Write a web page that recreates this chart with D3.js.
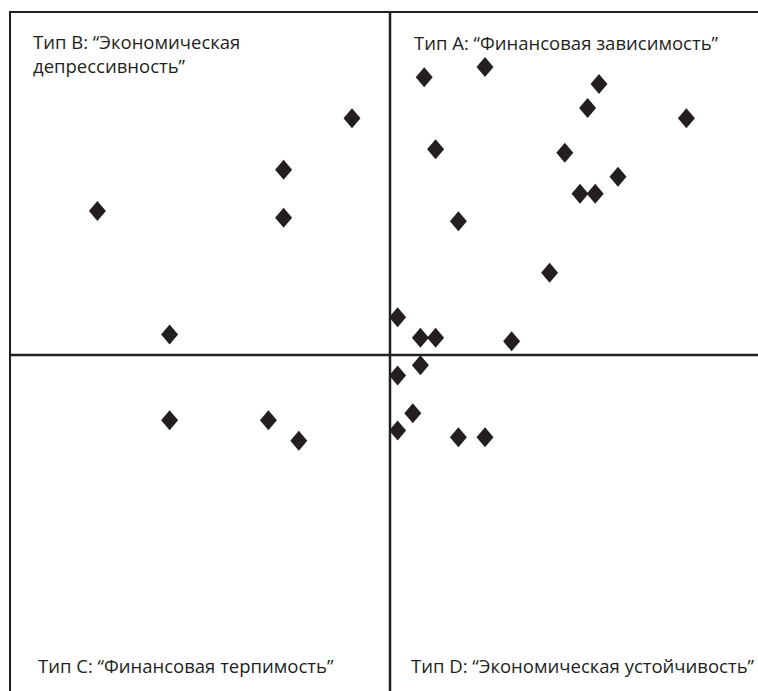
<!DOCTYPE html>
<html>
<head>
<meta charset="utf-8">
<script src="https://cdn.jsdelivr.net/npm/d3@7"></script>
<style>
  body { margin: 0; background: #fff; }
  text { font-family: "Open Sans", "Noto Sans", sans-serif; fill: #231f20; }
</style>
</head>
<body>
<div id="chart"></div>
<script>
// point values (x, y), axes cross at 0
var xValues = [
  -0.77, -0.28, -0.28, -0.10, -0.58,
  0.09, 0.25, 0.55, 0.52, 0.78, 0.12, 0.46, 0.60, 0.50, 0.54, 0.18,
  0.42, 0.02, 0.08, 0.12, 0.32,
  0.08, 0.02, 0.06, 0.02, 0.18, 0.25,
  -0.58, -0.32, -0.24
];
var yValues = [
  0.42, 0.54, 0.40, 0.69, 0.06,
  0.81, 0.84, 0.79, 0.72, 0.69, 0.60, 0.59, 0.52, 0.47, 0.47, 0.39,
  0.24, 0.11, 0.05, 0.05, 0.04,
  -0.03, -0.06, -0.17, -0.22, -0.24, -0.24,
  -0.19, -0.19, -0.25
];
var quadrantNames = ["A", "B", "C", "D"];
var quadrantLabels = [
  ["Тип A: “Финансовая зависимость”"],
  ["Тип B: “Экономическая", "депрессивность”"],
  ["Тип C: “Финансовая терпимость”"],
  ["Тип D: “Экономическая устойчивость”"]
];

var width = 758, height = 691;
var ink = "#231f20";

var svg = d3.select("#chart")
  .append("svg")
  .attr("width", width)
  .attr("height", height);

// the plot box runs past the right and bottom edge of the picture
var x = d3.scaleLinear().domain([-1, 1]).range([10, 770]);
var y = d3.scaleLinear().domain([-1, 1]).range([698, 12]);

svg.append("rect")
  .attr("x", x(-1))
  .attr("y", y(1))
  .attr("width", x(1) - x(-1))
  .attr("height", y(-1) - y(1))
  .attr("fill", "none")
  .attr("stroke", ink)
  .attr("stroke-width", 2);

svg.append("line")
  .attr("x1", x(0)).attr("x2", x(0))
  .attr("y1", y(1)).attr("y2", y(-1))
  .attr("stroke", ink).attr("stroke-width", 2.5);

svg.append("line")
  .attr("x1", x(-1)).attr("x2", x(1))
  .attr("y1", y(0)).attr("y2", y(0))
  .attr("stroke", ink).attr("stroke-width", 2.5);

// quadrant captions
var labelPos = {
  A: [414, 50],
  B: [33, 49],
  C: [38, 673],
  D: [411, 673]
};
quadrantNames.forEach(function(q, i) {
  var t = svg.append("text")
    .attr("x", labelPos[q][0])
    .attr("y", labelPos[q][1])
    .attr("font-size", 18.5);
  quadrantLabels[i].forEach(function(line, j) {
    t.append("tspan")
      .attr("x", labelPos[q][0])
      .attr("dy", j === 0 ? 0 : 24)
      .text(line);
  });
});

// diamond marker, a bit taller than wide
var diamond = {
  draw: function(context, size) {
    var h = Math.sqrt(size) / 2, w = h * 0.85;
    context.moveTo(0, -h);
    context.lineTo(w, 0);
    context.lineTo(0, h);
    context.lineTo(-w, 0);
    context.closePath();
  }
};

svg.append("g")
  .selectAll("path")
  .data(d3.range(xValues.length))
  .join("path")
  .attr("transform", function(d) { return "translate(" + x(xValues[d]) + "," + y(yValues[d]) + ")"; })
  .attr("d", d3.symbol().type(diamond).size(400))
  .attr("fill", ink);
</script>
</body>
</html>
